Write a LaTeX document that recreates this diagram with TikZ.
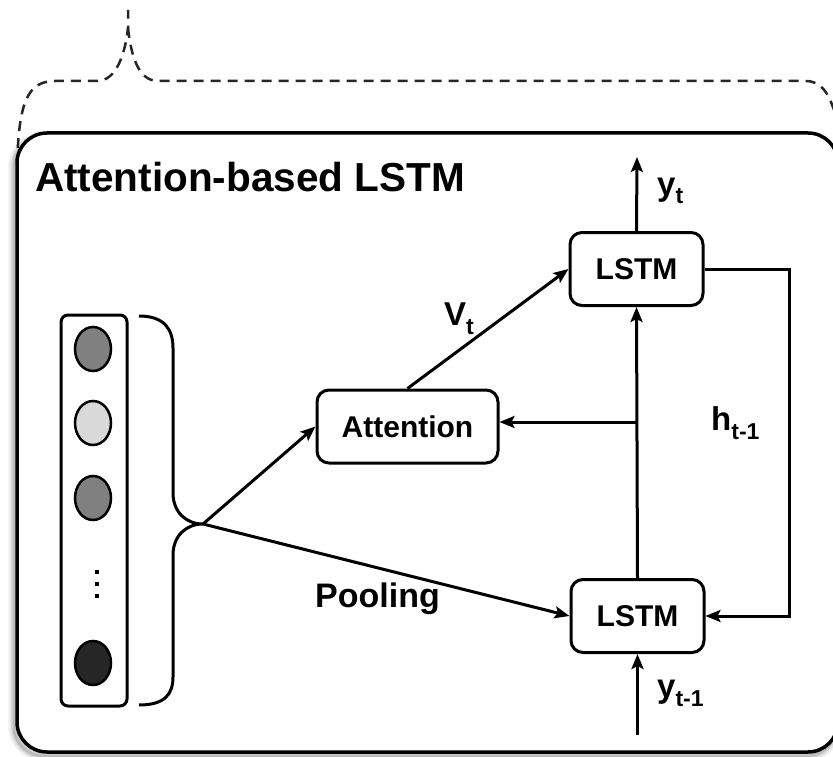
\documentclass[tikz,border=0pt]{standalone}
\usepackage{fontspec}
\setmainfont{Liberation Sans}
\usetikzlibrary{arrows.meta,shapes.geometric}
\newcommand\myfs[1]{\fontsize{#1}{#1}\selectfont\bfseries}
\newcommand\lowidx[1]{\raisebox{-9pt}{\myfs{23}#1}}
\begin{document}
\begin{tikzpicture}[x=1pt,y=-1pt,
  stepbox/.style={draw, line width=3pt, rounded corners=12pt, font=\myfs{30},
    inner sep=0pt, minimum width=133pt, minimum height=73pt, fill=white},
  cell/.style={ellipse, draw, line width=2.5pt, inner sep=0pt,
    minimum width=36pt, minimum height=44pt},
  arr/.style={line width=3pt, -{Stealth[length=15pt,width=12pt,inset=3pt]}},
  lbl/.style={anchor=base west, inner sep=0pt, font=\myfs{33}},
  brace/.style={line width=2.5pt, black!85, dash pattern=on 10pt off 7pt}]
\useasboundingbox (0,0) rectangle (833,757);

% dashed outer brace
\draw[brace] (17,165) .. controls (19,105) and (26,81) .. (55,81) -- (97,81)
  .. controls (116,81) and (125,55) .. (128,28) -- (128,10);
\draw[brace] (128,28) .. controls (131,55) and (138,81) .. (158,81) -- (805,81)
  .. controls (822,81) and (830,92) .. (840,130);

% soft shadow of the main frame
\foreach \w/\o in {12/0.04, 9/0.06, 6/0.08, 3/0.12}
  \draw[line width=\w pt, black, opacity=\o, rounded corners=30pt]
    (14,137) rectangle (836,756);
% main frame
\draw[line width=3.5pt, fill=white, rounded corners=30pt] (17,133) rectangle (838,752);

\node[lbl, font=\myfs{40.5}] (title) at (35,192) {Attention-based LSTM};

% feature column
\node[draw, line width=3pt, rounded corners=7pt, inner sep=0pt,
  minimum width=66pt, minimum height=391pt] (col) at (94,510.5) {};
\node[cell, fill=black!50] (c1) at (93,349) {};
\node[cell, fill=black!15] (c2) at (93,423) {};
\node[cell, fill=black!50] (c3) at (93,498) {};
\node[cell, fill=black!85] (c4) at (93,663) {};
\foreach \yy in {572,584,596}
  \fill (95,\yy-2) rectangle (99,\yy+2);

% pooling brace
\draw[line width=3pt] (139,316) .. controls (165,316) and (173,330) .. (173,348)
  -- (173,493) .. controls (173,512) and (186,524) .. (203,524) coordinate (tip)
  .. controls (186,524) and (173,536) .. (173,555) -- (173,677)
  .. controls (173,694) and (165,705) .. (139,705);

% processing blocks
\node[stepbox, minimum width=181pt] (att) at (407.5,426.5) {Attention};
\node[stepbox] (lstmT) at (636.5,269) {LSTM};
\node[stepbox] (lstmB) at (637.5,616) {LSTM};

% connectors
\coordinate (j) at (637,422);
\coordinate (fbx) at (789,0);
\coordinate (yt) at (637,157);
\coordinate (yin) at (637.5,735);
\draw[arr] (tip) -- (att.west);
\draw[arr] (tip) -- (lstmB.west);
\draw[arr] (att.north) -- (lstmT.west);
\draw[arr] (lstmB.north) -- (lstmT.south);
\draw[arr] (j) -- (j -| att.east);
\draw[arr] (lstmT.east) -- (lstmT.east -| fbx) |- (lstmB.east);
\draw[arr] (lstmT.north) -- (yt);
\draw[arr] (yin) -- (lstmB.south);

% labels
\node[lbl] (lyt) at (657,195) {y\lowidx{t}};
\node[lbl] (lvt) at (444,325) {V\lowidx{t}};
\node[lbl] (lht) at (711,430) {h\lowidx{t-1}};
\node[lbl] (lyin) at (657,697) {y\lowidx{t-1}};
\node[lbl, font=\myfs{34}] (lpool) at (315,607) {Pooling};
\end{tikzpicture}
\end{document}
